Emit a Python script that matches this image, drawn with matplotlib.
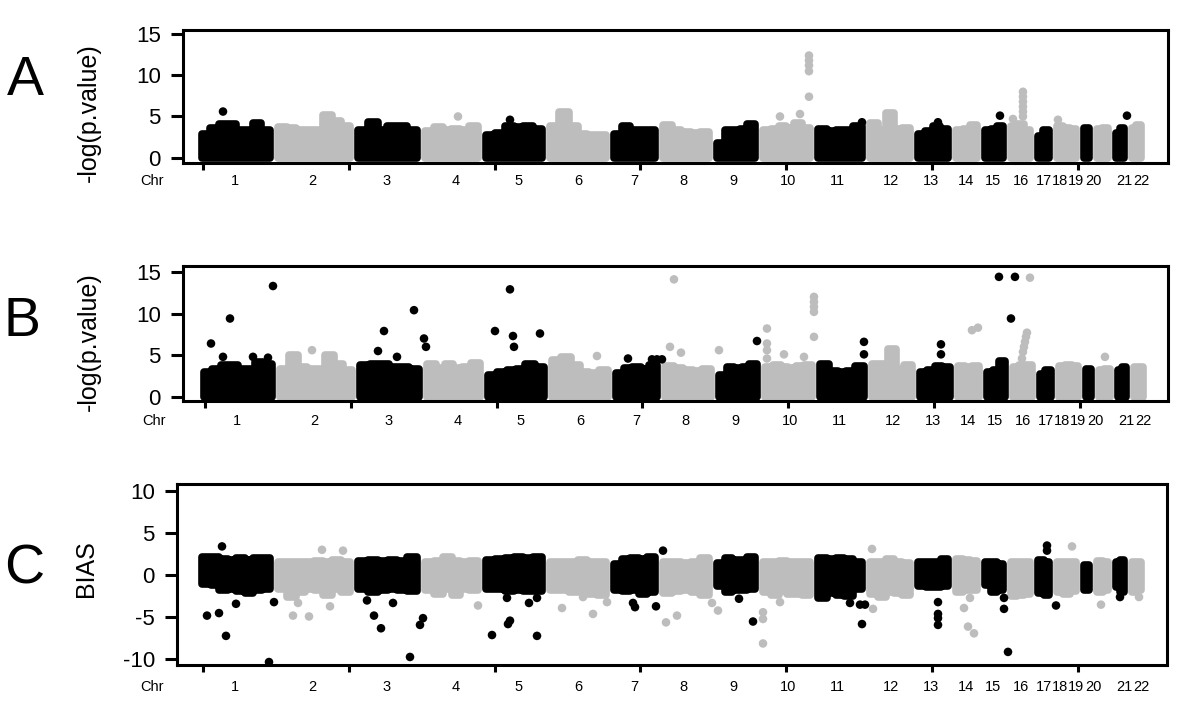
"""Three-panel Manhattan-style plot: -log(p) for two scans (A, B) and BIAS (C)."""

import matplotlib

matplotlib.use("Agg")
import matplotlib.pyplot as plt
import numpy as np

plt.rcParams["font.family"] = ["Liberation Sans", "DejaVu Sans"]
plt.rcParams["axes.unicode_minus"] = False

BLACK = "#000000"
GREY = "#bdbdbd"

# ---------------- Genome layout ----------------

CHROMS = [str(i) for i in range(1, 23)]
# chromosome boundaries along the concatenated genome axis
CHR_EDGES = [0, 76, 156, 223, 284, 348, 412, 461, 515, 561, 616, 668,
             716, 754, 783, 809, 836, 855, 882, 895, 914, 930, 947]
CHR_LABEL_POS = [37, 114, 189, 258, 321, 380, 436, 485, 535, 590, 639,
                 693, 733, 768, 795, 823, 846, 862, 878, 895, 926, 943]
POS_TICKS = [5, 151, 297, 442, 588, 734, 880]

# ---------------- Panel A ----------------
# upper envelope of the dense SNP cloud, per chromosome
A_TOPS = [
    [2.9, 3.6, 4.1, 4.1, 3.4, 3.3, 4.2, 3.4],
    [3.7, 3.6, 3.4, 3.3, 3.4, 5.2, 4.4, 3.9],
    [3.4, 4.3, 3.4, 3.9, 3.8, 3.3],
    [3.2, 3.7, 3.3, 3.5, 3.4, 3.9],
    [2.8, 3.0, 3.9, 3.7, 3.9, 3.5],
    [3.8, 5.6, 3.9, 2.9, 2.7, 2.8],
    [2.9, 3.9, 3.3, 3.4, 3.4],
    [4.0, 3.4, 3.1, 3.0, 3.1],
    [1.8, 3.3, 3.4, 3.5, 4.1],
    [3.4, 3.5, 3.8, 3.6, 4.2, 3.6],
    [3.5, 3.2, 3.3, 3.3, 3.8],
    [4.2, 3.4, 5.4, 3.5, 3.6],
    [2.9, 3.2, 3.8, 3.5],
    [3.4, 3.5, 4.0],
    [3.3, 3.5, 3.8],
    [3.9, 4.1, 3.4],
    [2.6, 3.3],
    [3.8, 3.6, 3.5],
    [3.6],
    [3.5, 3.6],
    [3.0, 3.6],
    [3.6, 4.0],
]
A_OUT_X = [25, 260, 312, 582, 602, 611, 611, 611, 611, 611, 664, 740, 802,
           815, 825, 825, 825, 825, 825, 825, 860, 929]
A_OUT_Y = [5.6, 5.0, 4.6, 5.0, 5.3, 12.4, 11.8, 11.2, 10.5, 7.4, 4.3, 4.3, 5.1,
           4.7, 8.0, 7.4, 6.8, 6.2, 5.6, 5.0, 4.6, 5.1]
A_OUT_C = ["k", "g", "k", "g", "g", "g", "g", "g", "g", "g", "k", "k", "k",
           "g", "g", "g", "g", "g", "g", "g", "g", "k"]

# ---------------- Panel B ----------------
B_TOPS = [
    [3.0, 3.4, 3.8, 3.8, 3.4, 3.4, 4.2, 4.0],
    [3.4, 5.0, 3.6, 3.4, 3.3, 5.0, 4.0, 3.2],
    [3.8, 4.0, 3.9, 3.6, 3.6, 3.4],
    [3.9, 3.5, 4.0, 3.5, 3.6, 4.1],
    [2.6, 3.0, 3.2, 3.4, 3.9, 3.6],
    [4.4, 4.8, 3.8, 3.0, 2.9, 3.2],
    [2.9, 3.5, 3.6, 3.4, 3.8],
    [3.7, 3.5, 3.2, 3.1, 3.3],
    [2.6, 3.6, 3.5, 3.6, 4.0],
    [3.6, 3.8, 3.6, 3.5, 3.7, 3.8],
    [3.9, 3.1, 3.0, 3.1, 3.7],
    [4.0, 3.9, 5.8, 3.4, 3.8],
    [3.0, 3.2, 3.7, 3.6],
    [3.7, 3.6, 3.7],
    [3.0, 3.2, 4.3],
    [3.6, 3.8, 3.8],
    [2.8, 3.2],
    [3.7, 3.8, 3.7],
    [3.4],
    [3.2, 3.3],
    [3.2, 3.6],
    [3.6, 3.6],
]
B_OUT_X = [11, 23, 30, 53, 68, 73, 112,
           178, 184, 197, 214, 224, 226,
           295, 310, 313, 314, 340, 397,
           428, 452, 457, 462, 474, 470, 481, 519, 557,
           567, 567, 567, 567, 584, 604, 614, 614, 614, 614, 614,
           664, 664, 690, 741, 741, 772, 778, 799, 811,
           815, 830, 822, 823, 824, 825, 826, 827, 905]
B_OUT_Y = [6.4, 4.8, 9.4, 4.8, 4.7, 13.3, 5.6,
           5.5, 7.9, 4.8, 10.4, 7.0, 6.0,
           7.9, 12.9, 7.3, 6.0, 7.6, 4.9,
           4.6, 4.5, 4.5, 4.5, 14.1, 6.0, 5.3, 5.6, 6.7,
           8.2, 6.4, 5.6, 4.6, 5.1, 4.8, 12.0, 11.4, 10.8, 10.2, 7.2,
           6.6, 5.1, 4.8, 6.3, 5.1, 8.0, 8.3, 14.4, 9.4,
           14.4, 14.3, 4.6, 5.4, 6.0, 6.6, 7.2, 7.7, 4.8]
B_OUT_C = ["k", "k", "k", "k", "k", "k", "g",
           "k", "k", "k", "k", "k", "k",
           "k", "k", "k", "k", "k", "g",
           "k", "k", "k", "k", "g", "g", "g", "g", "k",
           "g", "g", "g", "g", "g", "g", "g", "g", "g", "g", "g",
           "k", "k", "g", "k", "k", "g", "g", "k", "k",
           "k", "g", "g", "g", "g", "g", "g", "g", "g"]

# ---------------- Panel C ----------------
C_TOPS = [
    [2.1, 2.1, 1.9, 1.8, 2.0, 1.8, 2.0, 2.0],
    [1.6, 1.6, 1.5, 1.6, 1.7, 1.6, 1.8, 1.6],
    [1.7, 1.8, 1.7, 1.8, 1.7, 2.1],
    [1.6, 1.7, 2.2, 1.7, 1.6, 1.7],
    [1.8, 1.9, 2.0, 2.1, 2.0, 2.1],
    [1.6, 1.6, 1.6, 1.8, 1.6, 1.5],
    [1.3, 1.9, 2.0, 1.9, 2.2],
    [1.5, 1.6, 1.4, 1.5, 2.0],
    [1.4, 2.0, 1.8, 1.8, 2.1],
    [1.6, 1.6, 1.7, 1.6, 1.6, 1.5],
    [2.0, 1.9, 2.0, 1.9, 1.6],
    [1.6, 1.5, 1.9, 1.5, 1.4],
    [1.5, 1.5, 1.5, 1.9],
    [1.9, 1.8, 1.7],
    [1.5, 1.6, 1.3],
    [1.5, 1.5, 1.6],
    [1.8, 1.6],
    [1.5, 1.6, 1.5],
    [1.2],
    [1.7, 1.5],
    [1.6, 1.8],
    [1.5, 1.5],
]
C_BOTTOMS = [
    [-1.0, -1.2, -1.8, -1.6, -1.9, -2.1, -1.8, -1.6],
    [-1.6, -2.6, -2.0, -1.7, -1.8, -2.3, -1.7, -2.0],
    [-1.7, -2.0, -1.8, -1.6, -1.8, -1.9],
    [-1.8, -2.2, -1.7, -2.3, -1.7, -1.8],
    [-1.7, -1.7, -1.9, -1.8, -1.9, -1.9],
    [-1.8, -1.8, -2.0, -1.9, -2.2, -2.4],
    [-1.8, -1.9, -1.8, -2.2, -2.0],
    [-2.1, -1.9, -1.8, -2.0, -2.3],
    [-1.3, -2.0, -1.8, -1.8, -1.7],
    [-2.0, -2.4, -1.9, -2.2, -2.2, -2.4],
    [-2.7, -2.1, -2.3, -2.5, -1.7],
    [-2.2, -2.6, -2.0, -2.1, -2.4],
    [-1.3, -1.4, -1.4, -1.3],
    [-2.0, -1.8, -1.8],
    [-1.2, -2.0, -1.8],
    [-2.5, -2.4, -2.2],
    [-2.1, -2.3],
    [-2.0, -2.2, -1.9],
    [-1.8],
    [-2.0, -1.8],
    [-1.4, -2.0],
    [-2.0, -1.8],
]
C_OUT_X = [9, 21, 28, 24, 38, 71, 76,
           95, 100, 111, 132, 124, 145,
           169, 176, 183, 195, 212, 222, 225, 280,
           294, 309, 310, 312, 331, 339, 339,
           364, 385, 395, 409, 435, 437, 458, 465,
           468, 479, 514, 520, 541, 555,
           565, 565, 565, 582, 652, 662, 667, 664, 674, 675,
           740, 740, 740, 740, 766, 770, 776, 772,
           806, 806, 810, 849, 849, 858, 874, 903, 922, 941]
C_OUT_Y = [-4.8, -4.5, -7.2, 3.4, -3.4, -10.3, -3.2,
           -4.8, -3.3, -4.9, -3.7, 3.0, 2.9,
           -3.0, -4.8, -6.3, -3.3, -9.7, -5.9, -5.1, -3.6,
           -7.1, -2.7, -5.8, -5.4, -3.3, -2.7, -7.2,
           -3.9, -2.6, -4.6, -3.2, -3.3, -3.8, -3.7, 2.9,
           -5.6, -4.8, -3.3, -4.2, -2.8, -5.5,
           -4.4, -5.2, -8.1, -3.2, -3.3, -3.5, -3.5, -5.8, 3.1, -4.0,
           -3.2, -4.6, -5.1, -5.9, -3.9, -6.1, -6.9, -2.7,
           -2.7, -4.0, -9.1, 3.5, 2.9, -3.6, 3.4, -3.5, -2.6, -2.6]
C_OUT_C = ["k", "k", "k", "k", "k", "k", "k",
           "g", "g", "g", "g", "g", "g",
           "k", "k", "k", "k", "k", "k", "k", "g",
           "k", "k", "k", "k", "k", "k", "k",
           "g", "g", "g", "g", "k", "k", "k", "k",
           "g", "g", "g", "g", "k", "k",
           "g", "g", "g", "g", "k", "k", "k", "k", "g", "g",
           "k", "k", "k", "k", "g", "g", "g", "g",
           "k", "k", "k", "k", "k", "k", "g", "g", "k", "g"]

COLOR_MAP = {"k": BLACK, "g": GREY}


def draw_panel(ax, tops, bottoms, out_x, out_y, out_c, xlim, ylim, yticks,
               ylabel, ylabel_y, label_pad):
    for i, top in enumerate(tops):
        col = BLACK if i % 2 == 0 else GREY
        edges = np.linspace(CHR_EDGES[i] + 4, CHR_EDGES[i + 1] - 4, len(top) + 1)
        base = np.zeros(len(top)) if bottoms is None else np.asarray(bottoms[i])
        top = np.asarray(top)
        # one closed step polygon per chromosome (last value repeated for 'post')
        ax.fill_between(edges, np.append(base, base[-1]), np.append(top, top[-1]),
                        step="post", facecolor=col, edgecolor=col,
                        linewidth=5.5, joinstyle="round", zorder=2)
    ax.scatter(out_x, out_y, s=38, c=[COLOR_MAP[c] for c in out_c],
               linewidths=0, zorder=3)

    ax.set_xlim(*xlim)
    ax.set_ylim(*ylim)
    ax.set_yticks(yticks)
    ax.set_xticks(POS_TICKS, labels=[""] * len(POS_TICKS))
    ax.set_xticks(CHR_LABEL_POS, labels=CHROMS, minor=True)
    ax.tick_params(axis="y", length=9, width=2.2, labelsize=16, pad=7)
    ax.tick_params(axis="x", which="major", length=5, width=2.2)
    ax.tick_params(axis="x", which="minor", length=0, labelsize=10.5,
                   pad=label_pad)
    ax.annotate("Chr", xy=(-46, 0), xycoords=ax.get_xaxis_transform(),
                xytext=(0, -label_pad), textcoords="offset points",
                ha="center", va="top", fontsize=10.5, annotation_clip=False)
    for sp in ax.spines.values():
        sp.set_linewidth(2.2)
    ax.set_ylabel(ylabel, fontsize=18)
    ax.yaxis.set_label_coords(-0.083, ylabel_y)


fig = plt.figure(figsize=(12.0, 7.06), dpi=100)
ax_a = fig.add_axes([0.1525, 0.7691, 0.8208, 0.1884])
ax_b = fig.add_axes([0.1525, 0.4320, 0.8208, 0.1912])
ax_c = fig.add_axes([0.1475, 0.0581, 0.8250, 0.2564])

draw_panel(ax_a, A_TOPS, None, A_OUT_X, A_OUT_Y, A_OUT_C, (-15, 970),
           (-0.65, 15.5), [0, 5, 10, 15], "-log(p.value)", 0.38, 8)
draw_panel(ax_b, B_TOPS, None, B_OUT_X, B_OUT_Y, B_OUT_C, (-17, 968),
           (-0.5, 15.7), [0, 5, 10, 15], "-log(p.value)", 0.44, 9)
draw_panel(ax_c, C_TOPS, C_BOTTOMS, C_OUT_X, C_OUT_Y, C_OUT_C, (-21, 969),
           (-10.65, 10.8), [-10, -5, 0, 5, 10], "BIAS", 0.534, 11)
ax_c.yaxis.set_label_coords(-0.08, 0.534)

for letter, x, y in [("A", 25, 81), ("B", 22, 322), ("C", 24, 570)]:
    fig.text(x / 1200, 1 - y / 706, letter, fontsize=40, ha="center",
             va="center")

fig.savefig("out.png", dpi=100)
